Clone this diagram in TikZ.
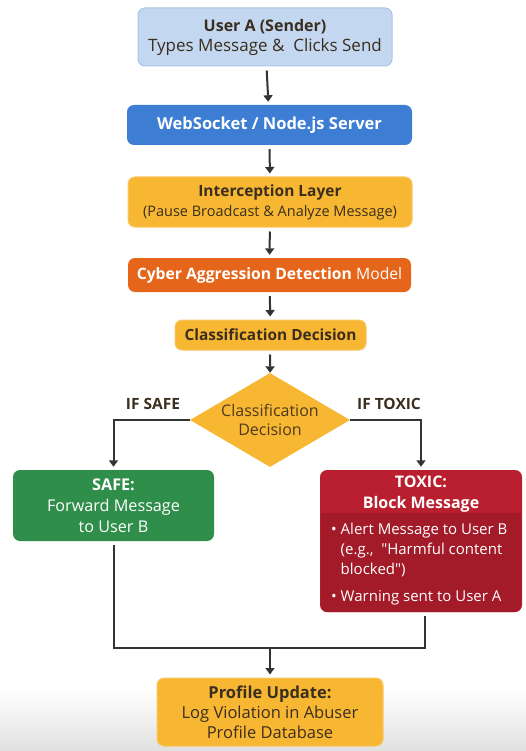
\documentclass[tikz,border=0pt]{standalone}
\usepackage{fontspec}
\setmainfont{Open Sans}
\newfontfamily\nomapfont{Open Sans}
\usetikzlibrary{shapes.geometric,arrows.meta,positioning,calc}
\definecolor{ublue}{HTML}{C3D7F1}
\definecolor{ubluebd}{HTML}{A9C4E8}
\definecolor{wsblue}{HTML}{3D7DD3}
\definecolor{ayellow}{HTML}{F7B733}
\definecolor{ayellowbd}{HTML}{F9C865}
\definecolor{aorange}{HTML}{E5661B}
\definecolor{agreen}{HTML}{2F8E4A}
\definecolor{ared}{HTML}{B91F2E}
\definecolor{adred}{HTML}{A31A28}
\definecolor{ink}{HTML}{333333}
\definecolor{darktext}{HTML}{3A2E1E}
\definecolor{diatext}{HTML}{4E3A1C}
\begin{document}
\begin{tikzpicture}[x=1pt,y=-1pt,
  box/.style={rounded corners=7pt, align=center, inner sep=2pt},
  flow/.style={draw=ink, line width=2pt, -{Triangle[width=9pt,length=6.5pt]}, shorten >=3pt, shorten <=4pt},
  plain/.style={draw=ink, line width=2pt},
  lbl/.style={font=\bfseries\fontsize{15.5}{18}\selectfont, text=darktext}
]
\useasboundingbox (0,0) rectangle (526,751);
\shade[top color=white, bottom color=black!12] (0,690) rectangle (526,751);

\node[box, fill=ublue, draw=ubluebd, line width=1pt, minimum width=254pt, minimum height=58pt, text=darktext,
  font=\fontsize{17}{20}\selectfont] (ua) at (265,37) {{\bfseries\fontsize{16}{20}\selectfont User A (Sender)}\\Types Message \&\ \ Clicks Send};

\node[box, fill=wsblue, minimum width=285pt, minimum height=40pt, text=white,
  font=\bfseries\fontsize{16.5}{19}\selectfont] (ws) at (269.5,125) {WebSocket / Node.js Server};

\node[box, fill=ayellow, draw=ayellowbd, line width=1pt, minimum width=284pt, minimum height=50pt, text=darktext,
  font=\fontsize{14.5}{20}\selectfont] (il) at (270,202) {{\bfseries\fontsize{15.5}{20}\selectfont Interception Layer}\\(Pause Broadcast \& Analyze Message)};

\node[box, fill=aorange, minimum width=283pt, minimum height=34pt, text=white,
  font=\fontsize{15.7}{18}\selectfont] (cy) at (269.5,275) {\textbf{Cyber Aggression Detection} Model};

\node[box, fill=ayellow, draw=ayellowbd, line width=1pt, minimum width=191pt, minimum height=30pt, text=darktext,
  font=\bfseries\fontsize{15.4}{18}\selectfont] (cd) at (270.5,335) {Classification Decision};

\node[diamond, fill=ayellow, inner sep=0pt, aspect=1.7, minimum width=160pt, minimum height=94pt, text=diatext,
  align=center, font=\fontsize{16}{19}\selectfont] (dia) at (270,420) {Classification\\Decision};

\node[box, fill=agreen, minimum width=201pt, minimum height=71pt, text=white,
  font=\fontsize{16.2}{21}\selectfont] (safe) at (113.5,505.5) {\textbf{SAFE:}\\Forward Message\\to User B};

\node[box, fill=ared, minimum width=202pt, minimum height=142pt] (tox) at (421,541) {};
\fill[adred, rounded corners=7pt] ($(tox.south west)+(1,0)$) rectangle ($(tox.east)+(-1,-28)$);
\fill[adred] ($(tox.west)+(1,-28)$) rectangle ($(tox.east)+(-1,-15)$);
\node[text=white, align=center, font=\bfseries\fontsize{16}{21}\selectfont] (toxh) at (421,494) {TOXIC:\\Block Message};
\node[text=white, align=left, anchor=north west, inner sep=0pt,
  font=\fontsize{15}{20}\selectfont] (toxb) at (331,523) {\textbullet\ Alert Message to User B\\\phantom{\textbullet\ }(e.g.,\ \ {\nomapfont"}Harmful content\\\phantom{\textbullet\ }blocked{\nomapfont"})\\[7pt]\textbullet\ Warning sent to User A};

\node[box, fill=ayellow, draw=ayellowbd, line width=1pt, minimum width=226pt, minimum height=68pt, text=darktext,
  font=\fontsize{16.5}{20}\selectfont] (pu) at (270,712) {\textbf{Profile Update:}\\Log Violation in Abuser\\Profile Database};

\node[lbl] (ls) at (153,404) {IF SAFE};
\node[lbl] (lt) at (389,404) {IF TOXIC};

\coordinate (m) at (270,648);

\draw[flow] (ua) -- (ws);
\draw[flow] (ws) -- (il);
\draw[flow] (il) -- (cy);
\draw[flow] (cy) -- (cd);
\draw[flow, shorten >=0pt] (cd) -- (dia.north);
\draw[flow, shorten <=0pt] (dia.west) -| (safe.north);
\draw[flow, shorten <=0pt] (dia.east) -| (tox.north);
\draw[plain] ([yshift=-4pt]safe.south) |- (m) -| ([xshift=4pt,yshift=-4pt]tox.south);
\draw[flow, shorten <=-1pt] (m) -- (pu.north);
\end{tikzpicture}
\end{document}
